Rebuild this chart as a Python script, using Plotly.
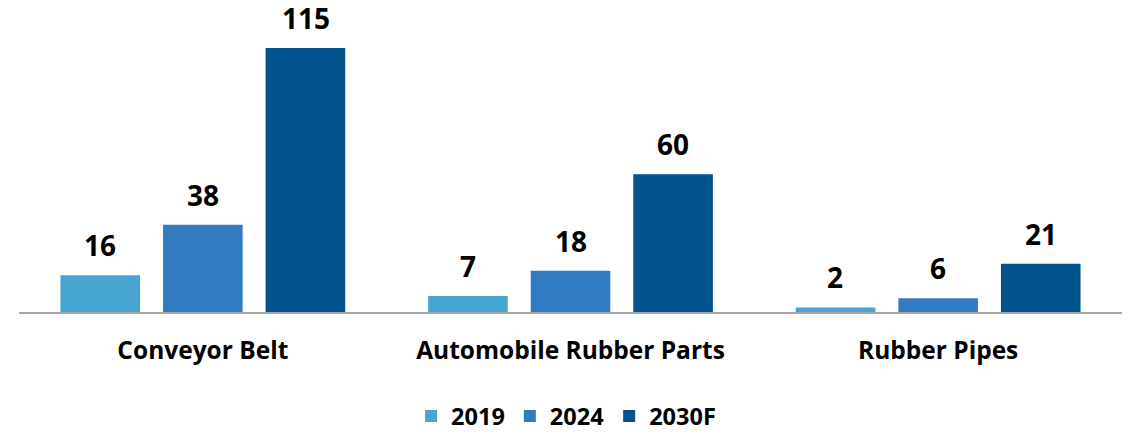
import plotly.graph_objects as go

categories = ["Conveyor Belt", "Automobile Rubber Parts", "Rubber Pipes"]
years = ["2019", "2024", "2030F"]
values_2019 = [16, 7, 2]
values_2024 = [38, 18, 6]
values_2030 = [115, 60, 21]
series = [values_2019, values_2024, values_2030]
colors = ["#47A5D4", "#337BC1", "#02548F"]

FONT = "Open Sans"
fig = go.Figure()

for name, vals, col in zip(years, series, colors):
    fig.add_trace(go.Bar(
        x=categories, y=vals, name=name,
        marker=dict(color=col, line=dict(width=0)),
        hoverinfo="skip",
    ))

# value labels above each bar (slot width of a bar in pixels within a group)
slot_px = 102.7
for i, vals in enumerate(series):
    for cat, v in zip(categories, vals):
        fig.add_annotation(
            x=cat, y=v, xref="x", yref="y",
            text=str(v), showarrow=False,
            xshift=(i - 1) * slot_px, yshift=9,
            yanchor="bottom",
            font=dict(family=FONT, size=28, color="#000000", weight="bold"),
        )

fig.update_layout(
    width=1130, height=433,
    margin=dict(l=19, r=8, t=10, b=121, autoexpand=False),
    paper_bgcolor="white", plot_bgcolor="white",
    barmode="group", bargap=0.163, bargroupgap=0.224,
    showlegend=True,
    legend=dict(
        orientation="h", x=0.496, xanchor="center",
        yref="paper", y=-0.345, yanchor="middle",
        font=dict(family=FONT, size=23.5, color="#000000", weight="bold"),
        itemwidth=30, traceorder="normal",
    ),
    xaxis=dict(
        showline=True, linecolor="#A6A6A6", linewidth=2,
        ticks="", showgrid=False, ticklabelstandoff=16,
        tickfont=dict(family=FONT, size=24.5, color="#000000", weight="bold"),
    ),
    yaxis=dict(
        range=[0, 131.5], visible=False, showgrid=False, zeroline=False,
    ),
)

fig.write_html("out.html")
